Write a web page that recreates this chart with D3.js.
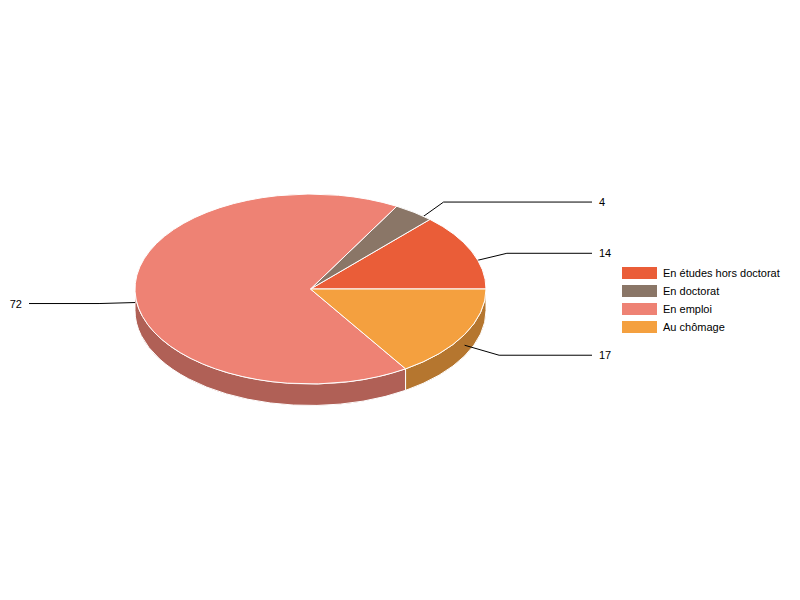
<!DOCTYPE html>
<html>
<head>
<meta charset="utf-8">
<style>
  html, body { margin: 0; padding: 0; background: #fff; }
  text { font-family: "Liberation Sans", Arial, sans-serif; font-size: 11px; fill: #000; }
</style>
</head>
<body>
<div id="chart"></div>
<script src="https://cdnjs.cloudflare.com/ajax/libs/d3/7.8.5/d3.min.js"></script>
<script>
// data, in drawing order
let categories = ['En études hors doctorat', 'En doctorat', 'En emploi', 'Au chômage'];
let values = [14, 4, 72, 17];
let colors = ['#ea5d38', '#8a7667', '#ee8274', '#f4a03f'];

// layout
let width = 800, height = 600;
let cx = 310.5, cy = 289, rx = 175.5, ry = 95, depth = 21.5;
let leaderRight = 592, leaderLeft = 29;
let sideShade = 0.74;
// elbow of each leader, relative to where it leaves the slice
let elbows = [[35.5, -8.5], [29.5, -21], [-36, 1], [34.5, 10]];

let svg = d3.select('#chart').append('svg').
attr('width', width).
attr('height', height).
style('display', 'block');

// starts at 3 o'clock and turns counter clockwise
let pie = d3.pie().sort(null).startAngle(Math.PI / 2).endAngle(Math.PI / 2 - 2 * Math.PI);
let slices = pie(values);

function px(a) {return cx + rx * Math.sin(a);}
function py(a) {return cy - ry * Math.cos(a);}

function topPath(d) {
  let large = Math.abs(d.endAngle - d.startAngle) > Math.PI ? 1 : 0;
  return 'M' + cx + ',' + cy +
  'L' + px(d.startAngle) + ',' + py(d.startAngle) +
  'A' + rx + ',' + ry + ' 0 ' + large + ' 0 ' + px(d.endAngle) + ',' + py(d.endAngle) + 'Z';
}

// the wall is only seen on the front half, between 3 and 9 o'clock
function sidePath(d) {
  let from = Math.max(d.endAngle, -Math.PI * 1.5);
  let to = Math.min(d.startAngle, -Math.PI / 2);
  if (from >= to) {
    return null;
  }
  return 'M' + px(to) + ',' + py(to) +
  'A' + rx + ',' + ry + ' 0 0 0 ' + px(from) + ',' + py(from) +
  'L' + px(from) + ',' + (py(from) + depth) +
  'A' + rx + ',' + ry + ' 0 0 1 ' + px(to) + ',' + (py(to) + depth) + 'Z';
}

function shade(c) {
  let rgb = d3.rgb(c);
  return d3.rgb(rgb.r * sideShade, rgb.g * sideShade, rgb.b * sideShade);
}

//walls
svg.selectAll('path.side').
data(slices.filter(d => sidePath(d))).
enter().
append('path').
attr('class', 'side').
attr('d', sidePath).
attr('fill', d => shade(colors[d.index])).
attr('stroke', '#fff').
attr('stroke-width', 1);

//leaders go under the top face
function midAngle(d) {return (d.startAngle + d.endAngle) / 2;}

let line = d3.line();
function leaderPoints(d) {
  let a = midAngle(d);
  let x0 = px(a), y0 = py(a) + depth / 2;
  let e = elbows[d.index];
  let end = e[0] > 0 ? leaderRight : leaderLeft;
  return [[x0, y0], [x0 + e[0], y0 + e[1]], [end, y0 + e[1]]];
}

svg.selectAll('path.leader').
data(slices).
enter().
append('path').
attr('class', 'leader').
attr('d', d => line(leaderPoints(d))).
attr('fill', 'none').
attr('stroke', '#000').
attr('stroke-width', 1);

//top face
svg.selectAll('path.top').
data(slices).
enter().
append('path').
attr('class', 'top').
attr('d', topPath).
attr('fill', d => colors[d.index]).
attr('stroke', '#fff').
attr('stroke-width', 1).
attr('stroke-linejoin', 'round');

//value labels
svg.selectAll('text.value').
data(slices).
enter().
append('text').
attr('class', 'value').
attr('x', d => leaderPoints(d)[2][0] + (elbows[d.index][0] > 0 ? 7 : -7)).
attr('y', d => leaderPoints(d)[2][1] + 4).
attr('text-anchor', d => elbows[d.index][0] > 0 ? 'start' : 'end').
text(d => d.data);

//legend
let legendY = d3.scalePoint().domain(categories).range([273, 327]);

let legend = svg.selectAll('g.legend').
data(categories).
enter().
append('g').
attr('class', 'legend').
attr('transform', d => 'translate(622,' + legendY(d) + ')');

legend.append('rect').
attr('x', 0).
attr('y', -6).
attr('width', 35).
attr('height', 12).
attr('fill', (d, i) => colors[i]);

legend.append('text').
attr('x', 41).
attr('y', 4).
text(d => d);
</script>
</body>
</html>
